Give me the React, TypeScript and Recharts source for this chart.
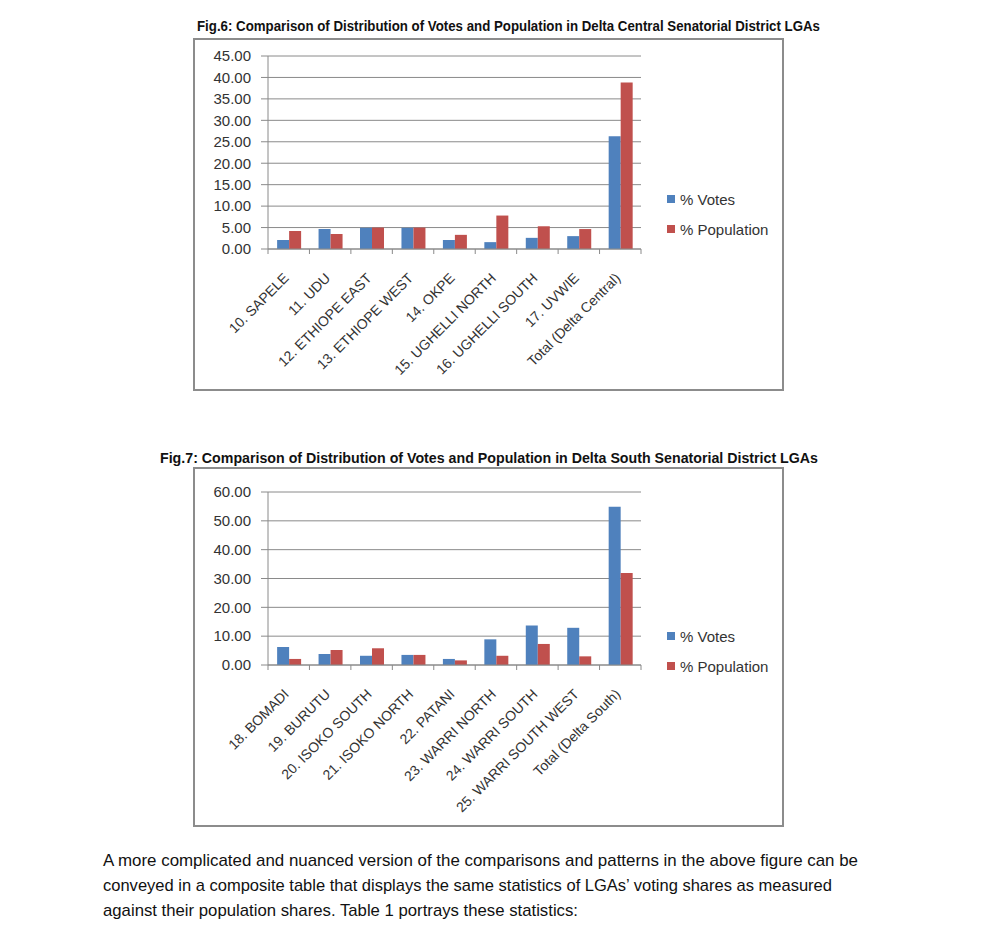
import React from 'react'
import { BarChart, Bar, XAxis, YAxis, CartesianGrid, Legend } from 'recharts'

// Fig.6 - Delta Central
const centralLgas = [
  '10. SAPELE',
  '11. UDU',
  '12. ETHIOPE EAST',
  '13. ETHIOPE WEST',
  '14. OKPE',
  '15. UGHELLI NORTH',
  '16. UGHELLI SOUTH',
  '17. UVWIE',
  'Total (Delta Central)',
]
const centralVotes = [2.1, 4.65, 4.95, 4.95, 2.1, 1.6, 2.6, 3.0, 26.3]
const centralPopulation = [4.2, 3.5, 5.0, 5.0, 3.3, 7.8, 5.3, 4.65, 38.8]
const centralTicks = [0, 5, 10, 15, 20, 25, 30, 35, 40, 45]

// Fig.7 - Delta South
const southLgas = [
  '18. BOMADI',
  '19. BURUTU',
  '20. ISOKO SOUTH',
  '21. ISOKO NORTH',
  '22. PATANI',
  '23. WARRI NORTH',
  '24. WARRI SOUTH',
  '25. WARRI SOUTH WEST',
  'Total (Delta South)',
]
const southVotes = [6.25, 3.8, 3.2, 3.5, 2.1, 8.9, 13.7, 12.9, 54.9]
const southPopulation = [2.1, 5.2, 5.8, 3.5, 1.6, 3.2, 7.3, 3.0, 31.9]
const southTicks = [0, 10, 20, 30, 40, 50, 60]

const seriesOrder = ['votes', 'pop']

const paragraph = [
  'A more complicated and nuanced version of the comparisons and patterns in the above figure can be',
  'conveyed in a composite table that displays the same statistics of LGAs\u2019 voting shares as measured',
  'against their population shares. Table 1 portrays these statistics:',
]

const BLUE = '#4F81BD'
const RED = '#C0504D'
const GRID = '#8a8a8a'
const FONT = "'Liberation Sans', Arial, sans-serif"

function buildRows(names: string[], votes: number[], pop: number[]) {
  return names.map((name, i) => ({ name, votes: votes[i], pop: pop[i] }))
}

function SlantTick(props: any) {
  const { x, y, payload, index, band, count } = props
  const half = band / 2
  const tx = x + 1
  const ty = y + 30
  return (
    <g>
      <line x1={x - half} y1={y} x2={x - half} y2={y + 5} stroke={GRID} />
      {index === count - 1 && <line x1={x + half} y1={y} x2={x + half} y2={y + 5} stroke={GRID} />}
      <text
        x={tx}
        y={ty}
        textAnchor="end"
        fontSize={14}
        fontFamily={FONT}
        fill="#333"
        transform={`rotate(-45, ${tx}, ${ty})`}
      >
        {payload.value}
      </text>
    </g>
  )
}

function LegendBox({ payload }: any) {
  const items = [...(payload || [])].sort(
    (a: any, b: any) => seriesOrder.indexOf(a.dataKey) - seriesOrder.indexOf(b.dataKey)
  )
  return (
    <div style={{ fontFamily: FONT, fontSize: 15, color: '#333' }}>
      {items.map((p: any) => (
        <div key={p.value} style={{ display: 'flex', alignItems: 'center', height: 30, whiteSpace: 'nowrap' }}>
          <span style={{ width: 8, height: 8, background: p.color, marginRight: 5, display: 'inline-block' }} />
          {p.value}
        </div>
      ))}
    </div>
  )
}

interface FrameProps {
  left: number
  top: number
  width: number
  height: number
  names: string[]
  votes: number[]
  pop: number[]
  ticks: number[]
  plotTop: number
  plotBottom: number
  legendTop: number
}

function FrameChart({ left, top, width, height, names, votes, pop, ticks, plotTop, plotBottom, legendTop }: FrameProps) {
  const data = buildRows(names, votes, pop)
  const axisWidth = 75
  const rightMargin = 143
  const band = (width - axisWidth - rightMargin) / names.length
  return (
    <div style={{ position: 'absolute', left, top, width, height }}>
      <BarChart
        width={width}
        height={height}
        data={data}
        margin={{ top: plotTop, right: rightMargin, left: 0, bottom: 0 }}
        barCategoryGap="22%"
        barGap={0}
      >
        <CartesianGrid vertical={false} stroke={GRID} />
        <XAxis
          dataKey="name"
          interval={0}
          height={plotBottom}
          tickSize={0}
          tickMargin={0}
          tickLine={false}
          axisLine={{ stroke: GRID }}
          tick={<SlantTick band={band} count={names.length} />}
        />
        <YAxis
          width={axisWidth}
          domain={[0, ticks[ticks.length - 1]]}
          ticks={ticks}
          interval={0}
          tickFormatter={(v: number) => v.toFixed(2)}
          tickSize={7}
          tickMargin={10}
          tickLine={{ stroke: GRID }}
          axisLine={{ stroke: GRID }}
          tick={{ fill: '#333', fontSize: 15, fontFamily: FONT }}
        />
        <Legend
          layout="vertical"
          align="center"
          verticalAlign="middle"
          wrapperStyle={{ left: 474, top: legendTop, width: 'auto' }}
          content={<LegendBox />}
        />
        <Bar dataKey="votes" name="% Votes" fill={BLUE} isAnimationActive={false} />
        <Bar dataKey="pop" name="% Population" fill={RED} isAnimationActive={false} />
      </BarChart>
      <div
        style={{
          position: 'absolute',
          left: 0,
          top: 0,
          width,
          height,
          boxSizing: 'border-box',
          border: '2px solid #8c8c8c',
          pointerEvents: 'none',
        }}
      />
    </div>
  )
}

function TextLine({ x, baseline, width, size, bold, text }: any) {
  return (
    <svg
      style={{ position: 'absolute', left: x - 4, top: baseline - size - 8, overflow: 'visible' }}
      width={width + 12}
      height={size + 18}
    >
      <text
        x={4}
        y={size + 8}
        fontSize={size}
        fontWeight={bold ? 'bold' : 'normal'}
        fontFamily={FONT}
        fill="#111"
        textLength={width}
        lengthAdjust="spacingAndGlyphs"
      >
        {text}
      </text>
    </svg>
  )
}

export default function App() {
  return (
    <div style={{ position: 'absolute', left: 0, top: 0, width: 990, height: 925, background: '#fff', overflow: 'hidden' }}>
      <TextLine
        x={197}
        baseline={31}
        width={623}
        size={15}
        bold
        text="Fig.6: Comparison of Distribution of Votes and Population in Delta Central Senatorial District LGAs"
      />
      <FrameChart
        left={193}
        top={38}
        width={591}
        height={353}
        names={centralLgas}
        votes={centralVotes}
        pop={centralPopulation}
        ticks={centralTicks}
        plotTop={18}
        plotBottom={142}
        legendTop={146}
      />
      <TextLine
        x={160}
        baseline={463}
        width={658}
        size={15}
        bold
        text="Fig.7: Comparison of Distribution of Votes and Population in Delta South Senatorial District LGAs"
      />
      <FrameChart
        left={193}
        top={467}
        width={591}
        height={360}
        names={southLgas}
        votes={southVotes}
        pop={southPopulation}
        ticks={southTicks}
        plotTop={25}
        plotBottom={162}
        legendTop={154}
      />
      {paragraph.map((line, i) => (
        <TextLine key={i} x={103} baseline={866 + i * 25} width={[755, 729, 475][i]} size={17} text={line} />
      ))}
    </div>
  )
}
